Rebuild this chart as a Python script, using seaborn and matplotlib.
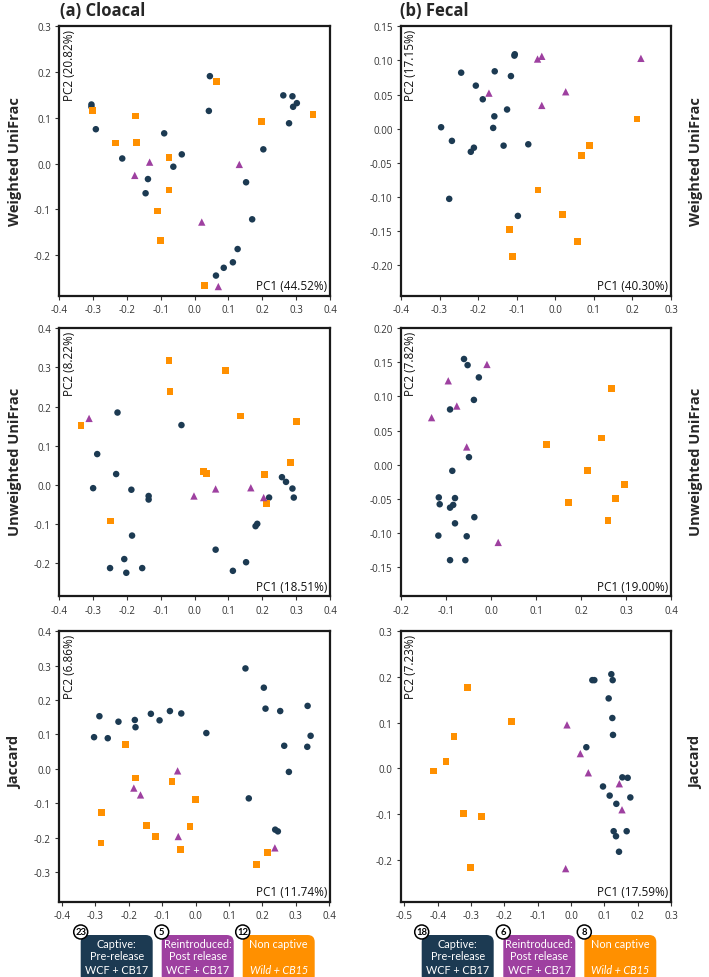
import numpy as np
import pandas as pd
import matplotlib
matplotlib.use("Agg")
import matplotlib.pyplot as plt
import seaborn as sns
from matplotlib.patches import FancyBboxPatch, Circle
from matplotlib.transforms import IdentityTransform
from matplotlib.lines import Line2D

# ---------------- data ----------------
groups = ["Captive", "Reintroduced", "Non captive"]

# Cloacal - Weighted UniFrac
cw_cap_x = [-0.305, -0.305, -0.292, 0.045, 0.042, -0.090, -0.038, -0.214, -0.063, -0.138, -0.145, 0.262, 0.289, 0.291, 0.302, 0.279, 0.203, 0.152, 0.170, 0.127, 0.113, 0.086, 0.063]
cw_cap_y = [0.129, 0.124, 0.075, 0.191, 0.115, 0.066, 0.020, 0.011, -0.007, -0.034, -0.065, 0.149, 0.147, 0.124, 0.132, 0.088, 0.031, -0.041, -0.122, -0.187, -0.216, -0.228, -0.245]
cw_rei_x = [-0.133, -0.177, 0.132, 0.021, 0.070]
cw_rei_y = [0.003, -0.026, -0.002, -0.128, -0.269]
cw_non_x = [-0.301, 0.065, -0.175, -0.233, -0.171, 0.198, 0.350, -0.076, -0.076, -0.110, -0.102, 0.030]
cw_non_y = [0.116, 0.180, 0.104, 0.045, 0.046, 0.091, 0.107, 0.014, -0.058, -0.104, -0.169, -0.267]

# Fecal - Weighted UniFrac
fw_cap_x = [-0.105, -0.106, -0.244, -0.157, -0.115, -0.206, -0.188, -0.125, -0.158, -0.296, -0.161, -0.268, -0.211, -0.219, -0.134, -0.070, -0.275, -0.097]
fw_cap_y = [0.109, 0.107, 0.082, 0.084, 0.077, 0.063, 0.043, 0.028, 0.018, 0.002, 0.001, -0.018, -0.028, -0.034, -0.025, -0.023, -0.103, -0.128]
fw_rei_x = [-0.046, -0.035, 0.222, -0.172, 0.027, -0.035]
fw_rei_y = [0.102, 0.106, 0.103, 0.052, 0.054, 0.034]
fw_non_x = [0.212, 0.088, 0.068, -0.045, 0.019, -0.118, 0.058, -0.111]
fw_non_y = [0.014, -0.025, -0.039, -0.090, -0.126, -0.148, -0.165, -0.187]

# Cloacal - Unweighted UniFrac
cu_cap_x = [-0.228, -0.039, -0.288, -0.232, -0.300, -0.187, -0.136, -0.136, -0.185, -0.208, -0.202, -0.250, -0.155, 0.062, 0.113, 0.152, 0.180, 0.185, 0.220, 0.258, 0.270, 0.289, 0.293]
cu_cap_y = [0.185, 0.153, 0.079, 0.028, -0.008, -0.012, -0.028, -0.037, -0.129, -0.189, -0.224, -0.212, -0.212, -0.165, -0.219, -0.197, -0.105, -0.099, -0.032, 0.020, 0.008, -0.009, -0.032]
cu_rei_x = [-0.312, -0.002, 0.062, 0.166, 0.204]
cu_rei_y = [0.170, -0.028, -0.010, -0.007, -0.032]
cu_non_x = [-0.076, -0.073, 0.091, 0.136, 0.302, -0.336, 0.283, 0.027, 0.034, 0.207, 0.213, -0.249]
cu_non_y = [0.317, 0.238, 0.292, 0.176, 0.162, 0.151, 0.057, 0.035, 0.030, 0.027, -0.048, -0.092]

# Fecal - Unweighted UniFrac
fu_cap_x = [-0.060, -0.052, -0.027, -0.038, -0.091, -0.049, -0.086, -0.116, -0.114, -0.080, -0.084, -0.091, -0.037, -0.080, -0.117, -0.054, -0.091, -0.057]
fu_cap_y = [0.155, 0.146, 0.128, 0.095, 0.081, 0.011, -0.009, -0.048, -0.058, -0.049, -0.059, -0.063, -0.077, -0.086, -0.104, -0.105, -0.140, -0.140]
fu_rei_x = [-0.009, -0.095, -0.076, -0.132, -0.054, 0.016]
fu_rei_y = [0.147, 0.123, 0.086, 0.069, 0.026, -0.114]
fu_non_x = [0.268, 0.246, 0.124, 0.215, 0.296, 0.277, 0.173, 0.260]
fu_non_y = [0.112, 0.039, 0.030, -0.008, -0.029, -0.049, -0.055, -0.082]

# Cloacal - Jaccard
cj_cap_x = [-0.304, -0.288, -0.263, -0.231, -0.182, -0.180, -0.134, -0.108, -0.077, -0.043, 0.032, 0.149, 0.204, 0.209, 0.253, 0.265, 0.279, 0.335, 0.344, 0.334, 0.159, 0.238, 0.246]
cj_cap_y = [0.092, 0.153, 0.089, 0.137, 0.142, 0.121, 0.160, 0.141, 0.168, 0.161, 0.104, 0.292, 0.236, 0.175, 0.168, 0.067, -0.009, 0.183, 0.096, 0.064, -0.086, -0.177, -0.182]
cj_rei_x = [-0.054, -0.185, -0.165, -0.052, 0.237]
cj_rei_y = [-0.006, -0.056, -0.076, -0.197, -0.230]
cj_non_x = [-0.211, -0.181, -0.071, -0.001, -0.282, -0.283, -0.147, -0.119, -0.017, -0.045, 0.215, 0.181]
cj_non_y = [0.071, -0.027, -0.036, -0.089, -0.128, -0.216, -0.165, -0.197, -0.167, -0.235, -0.244, -0.279]

# Fecal - Jaccard
fj_cap_x = [0.121, 0.064, 0.070, 0.125, 0.113, 0.124, 0.126, 0.046, 0.154, 0.170, 0.096, 0.116, 0.178, 0.136, 0.128, 0.167, 0.135, 0.144]
fj_cap_y = [0.206, 0.193, 0.193, 0.193, 0.153, 0.110, 0.073, 0.046, -0.020, -0.021, -0.040, -0.060, -0.064, -0.078, -0.138, -0.138, -0.149, -0.183]
fj_rei_x = [-0.012, 0.028, 0.052, 0.145, 0.153, -0.016]
fj_rei_y = [0.095, 0.032, -0.010, -0.034, -0.091, -0.220]
fj_non_x = [-0.310, -0.179, -0.351, -0.375, -0.412, -0.323, -0.268, -0.302]
fj_non_y = [0.176, 0.102, 0.070, 0.015, -0.006, -0.099, -0.106, -0.217]

pc1_labels = ["PC1 (44.52%)", "PC1 (40.30%)", "PC1 (18.51%)", "PC1 (19.00%)", "PC1 (11.74%)", "PC1 (17.59%)"]
pc2_labels = ["PC2 (20.82%)", "PC2 (17.15%)", "PC2 (8.22%)", "PC2 (7.82%)", "PC2 (6.86%)", "PC2 (7.23%)"]
row_labels = ["Weighted UniFrac", "Unweighted UniFrac", "Jaccard"]
col_titles = ["(a) Cloacal", "(b) Fecal"]
xticks_list = [np.arange(-0.4, 0.41, 0.1), np.arange(-0.4, 0.31, 0.1), np.arange(-0.4, 0.41, 0.1),
               np.arange(-0.2, 0.41, 0.1), np.arange(-0.4, 0.41, 0.1), np.arange(-0.5, 0.31, 0.1)]
yticks_list = [np.arange(-0.2, 0.31, 0.1), np.arange(-0.20, 0.151, 0.05), np.arange(-0.2, 0.41, 0.1),
               np.arange(-0.15, 0.201, 0.05), np.arange(-0.3, 0.41, 0.1), np.arange(-0.2, 0.31, 0.1)]
yfmt = ["%.1f", "%.2f", "%.1f", "%.2f", "%.1f", "%.1f"]
xlims = [(-0.4, 0.4), (-0.4, 0.3), (-0.4, 0.4), (-0.2, 0.4), (-0.408, 0.402), (-0.51, 0.3)]
ylims = [(-0.289, 0.3), (-0.245, 0.15), (-0.284, 0.4), (-0.193, 0.2), (-0.386, 0.4), (-0.292, 0.3)]

legend_counts_cloacal = [23, 5, 12]
legend_counts_fecal = [18, 6, 8]

# ---------------- style ----------------
sns.set_theme(style="ticks")
plt.rcParams["font.family"] = ["Open Sans", "DejaVu Sans"]
plt.rcParams["axes.unicode_minus"] = False

NAVY = "#1c3a52"
PURPLE = "#9e40a0"
ORANGE = "#ff9000"
palette = {"Captive": NAVY, "Reintroduced": PURPLE, "Non captive": ORANGE}
markers = {"Captive": "o", "Reintroduced": "^", "Non captive": "s"}
sizes = {"Captive": 22, "Reintroduced": 28, "Non captive": 24}

W, H = 709, 978
fig = plt.figure(figsize=(W / 100, H / 100), dpi=100)


def rect(x0, x1, top, bottom):
    return [x0 / W, 1 - bottom / H, (x1 - x0) / W, (bottom - top) / H]


cols = [(59.3, 330.0), (401.0, 671.0)]
rows = [(27.3, 296.7), (329.3, 597.3), (632.3, 902.5)]

panel_data = [
    (cw_cap_x, cw_cap_y, cw_rei_x, cw_rei_y, cw_non_x, cw_non_y),
    (fw_cap_x, fw_cap_y, fw_rei_x, fw_rei_y, fw_non_x, fw_non_y),
    (cu_cap_x, cu_cap_y, cu_rei_x, cu_rei_y, cu_non_x, cu_non_y),
    (fu_cap_x, fu_cap_y, fu_rei_x, fu_rei_y, fu_non_x, fu_non_y),
    (cj_cap_x, cj_cap_y, cj_rei_x, cj_rei_y, cj_non_x, cj_non_y),
    (fj_cap_x, fj_cap_y, fj_rei_x, fj_rei_y, fj_non_x, fj_non_y),
]

for i, (cx, cy, rx, ry, nx, ny) in enumerate(panel_data):
    r, c = divmod(i, 2)
    ax = fig.add_axes(rect(cols[c][0], cols[c][1], rows[r][0], rows[r][1]))
    df = pd.DataFrame({
        "PC1": list(cx) + list(nx) + list(rx),
        "PC2": list(cy) + list(ny) + list(ry),
        "Group": ["Captive"] * len(cx) + ["Non captive"] * len(nx) + ["Reintroduced"] * len(rx),
    })
    sns.scatterplot(data=df, x="PC1", y="PC2", hue="Group", style="Group", size="Group",
                    palette=palette, markers=markers, sizes=sizes, linewidth=0,
                    legend=False, ax=ax, zorder=3)
    ax.set_xlim(*xlims[i])
    ax.set_ylim(*ylims[i])
    ax.set_xticks(xticks_list[i])
    ax.set_xticklabels(["%.1f" % (v if abs(v) > 1e-9 else 0.0) for v in xticks_list[i]])
    ax.set_yticks(yticks_list[i])
    ax.set_yticklabels([yfmt[i] % (v if abs(v) > 1e-9 else 0.0) for v in yticks_list[i]])
    ax.set_xlabel("")
    ax.set_ylabel("")
    ax.tick_params(axis="both", labelsize=7, colors="#333333", length=3, width=0.8, pad=3)
    for s in ax.spines.values():
        s.set_visible(True)
        s.set_linewidth(1.6)
        s.set_color("#1a1a1a")
    ax.text(0.012, 0.99, pc2_labels[i], transform=ax.transAxes, rotation=90,
            ha="left", va="top", fontsize=8.5, color="#111111")
    ax.text(0.99, 0.012, pc1_labels[i], transform=ax.transAxes,
            ha="right", va="bottom", fontsize=8.5, color="#111111")

# column titles
idt = IdentityTransform()
fig.text(60 / W, 1 - 11 / H, col_titles[0], fontsize=12, fontweight="bold", ha="left", va="center")
fig.text(400 / W, 1 - 11 / H, col_titles[1], fontsize=12, fontweight="bold", ha="left", va="center")

# row labels
row_centers = [162, 462, 762]
for lbl, yc in zip(row_labels, row_centers):
    fig.text(15 / W, 1 - yc / H, lbl, rotation=90, fontsize=10.5, fontweight="bold",
             ha="center", va="center")
    fig.text(696 / W, 1 - yc / H, lbl, rotation=90, fontsize=10.5, fontweight="bold",
             ha="center", va="center")

# custom legends
box_info = [
    (NAVY, ["Captive:", "Pre-release"], "WCF + CB17", "normal"),
    (PURPLE, ["Reintroduced:", "Post release"], "WCF + CB17", "normal"),
    (ORANGE, ["Non captive"], "Wild + CB15", "italic"),
]


def draw_legend(xs, counts):
    for (col, lines, bottom, style), x0, n in zip(box_info, xs, counts):
        bw, top, bot = 72, 936, 984
        patch = FancyBboxPatch((x0, H - bot), bw, bot - top,
                               boxstyle="round,pad=0,rounding_size=7",
                               transform=idt, facecolor=col, edgecolor="none", zorder=2)
        fig.patches.append(patch)
        cxm = x0 + bw / 2
        for j, t in enumerate(lines):
            fig.text(cxm, H - (944.5 + 11.7 * j), t, transform=idt, ha="center", va="center",
                     color="white", fontsize=7.8, family=["Lato", "DejaVu Sans"])
        fig.lines.append(Line2D([x0 + 4, x0 + bw - 4], [H - 962, H - 962], transform=idt,
                                color="white", alpha=0.55, linewidth=0.6))
        fig.text(cxm, H - 970.5, bottom, transform=idt, ha="center", va="center",
                 color="white", fontsize=7.8, style=style, family=["Lato", "DejaVu Sans"])
        circ = Circle((x0, H - 933), 7, transform=idt, facecolor="white",
                      edgecolor="black", linewidth=1.1, zorder=4)
        fig.patches.append(circ)
        fig.text(x0, H - 933, str(n), transform=idt, ha="center", va="center",
                 fontsize=6.8, fontweight="bold", color="black", zorder=5,
                 family=["Lato", "DejaVu Sans"])


draw_legend([80.7, 161.7, 242.7], legend_counts_cloacal)
draw_legend([421.7, 503.3, 584.3], legend_counts_fecal)

fig.savefig("out.png", dpi=100)
